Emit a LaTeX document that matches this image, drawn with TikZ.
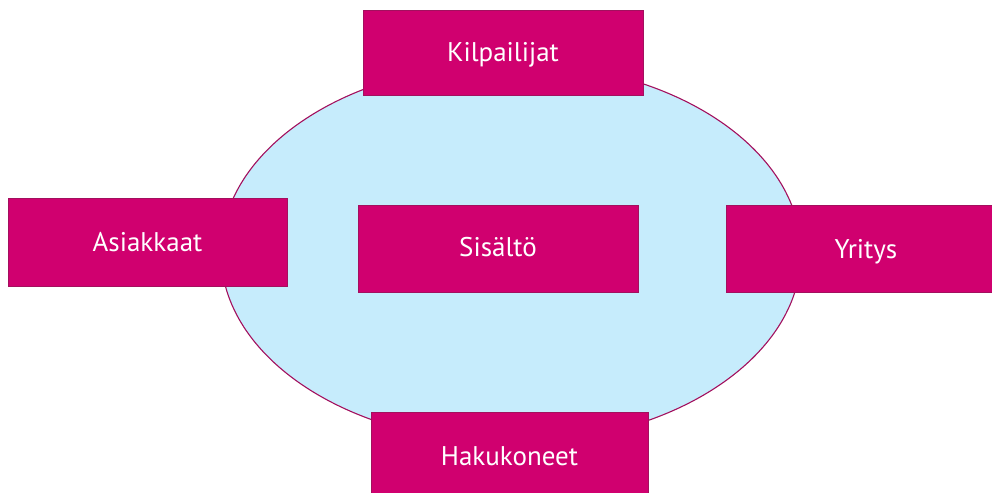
\documentclass[tikz,border=0pt]{standalone}
\usepackage{fontspec}
\setmainfont{PT Sans}
\usetikzlibrary{shapes.geometric}
\definecolor{mag}{HTML}{D0006F}
\definecolor{magline}{HTML}{A3105E}
\definecolor{skyfill}{HTML}{C6ECFC}
\begin{document}
\begin{tikzpicture}[x=1pt,y=-1pt,
  box/.style={rectangle, fill=mag, draw=magline, line width=0.8pt,
    minimum width=#1, minimum height=86pt, inner sep=0pt, outer sep=0pt},
  lbl/.style={text=white, font=\fontsize{27}{30}\selectfont, inner sep=0pt,
    text height=19pt, text depth=0pt}]
\useasboundingbox (0,0) rectangle (992,492);
\clip (0,0) rectangle (992,492);
\fill[white] (0,0) rectangle (992,492);
\node[ellipse, draw=magline, line width=1.1pt, fill=skyfill,
  minimum width=580pt, minimum height=380pt, inner sep=0pt] (oval) at (511,253) {};
\node[box=280pt, minimum height=85pt] (kil) at (503,52.5) {};
\node[box=279pt, minimum height=88pt] (asi) at (147.5,242) {};
\node[box=280pt, minimum height=87pt] (sis) at (498,248.5) {};
\node[box=280pt, minimum height=87pt] (yri) at (866,248.5) {};
\node[box=277pt, minimum height=88pt] (hak) at (509.5,456) {};
\node[lbl] (tkil) at (kil.center) {Kilpailijat};
\node[lbl] (tasi) at (asi.center) {Asiakkaat};
\node[lbl] (tsis) at ([yshift=2pt]sis.center) {Sisältö};
\node[lbl] (tyri) at (yri.center) {Yritys};
\node[lbl] (thak) at (hak.center) {Hakukoneet};
\end{tikzpicture}
\end{document}
